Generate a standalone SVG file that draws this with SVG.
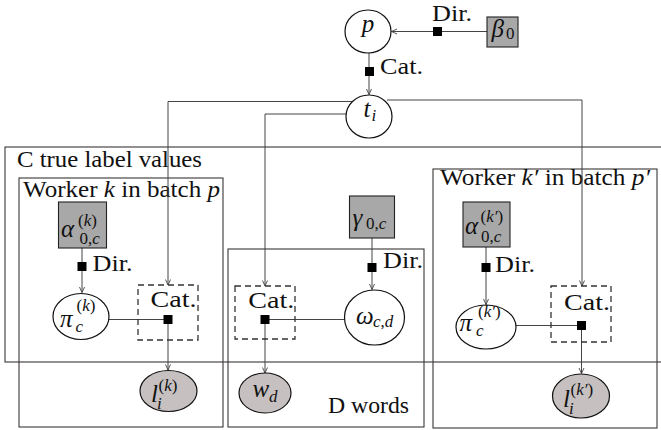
<svg xmlns="http://www.w3.org/2000/svg" width="661" height="430" viewBox="0 0 661 430" font-family="Liberation Serif, Times New Roman, serif">
<defs>
<marker id="arr" markerUnits="userSpaceOnUse" markerWidth="8" markerHeight="8" refX="6" refY="3" orient="auto">
<path d="M0.5,0.5 L6,3 L0.5,5.5" fill="none" stroke="#444" stroke-width="0.9"/>
</marker>
</defs>

<g id="plates">
<g fill="none" stroke="#3a3636" stroke-width="1.1">
<rect x="5" y="147" width="670" height="215"/>
<rect x="19" y="178" width="204" height="249"/>
<rect x="228" y="249" width="196" height="178"/>
<rect x="433" y="169" width="224" height="259"/>
</g>
<text font-family="Liberation Serif, Times New Roman, serif" font-size="24" fill="#111" x="17" y="166.5" textLength="185" lengthAdjust="spacingAndGlyphs">C true label values</text>
<text font-family="Liberation Serif, Times New Roman, serif" font-size="24" fill="#111" x="23" y="196.5" textLength="197" lengthAdjust="spacingAndGlyphs">Worker <tspan font-style="italic">k</tspan> in batch <tspan font-style="italic">p</tspan></text>
<text font-family="Liberation Serif, Times New Roman, serif" font-size="24" fill="#111" x="328" y="413" textLength="81" lengthAdjust="spacingAndGlyphs">D words</text>
<text font-family="Liberation Serif, Times New Roman, serif" font-size="24" fill="#111" x="440" y="185" textLength="210" lengthAdjust="spacingAndGlyphs">Worker <tspan font-style="italic">k′</tspan> in batch <tspan font-style="italic">p′</tspan></text>
</g>

<g id="connectors">
<g fill="none" stroke="#444" stroke-width="1">
<line x1="487" y1="31.5" x2="391.5" y2="31.5" marker-end="url(#arr)"/>
<line x1="369" y1="53" x2="369" y2="94.5" marker-end="url(#arr)"/>
<polyline points="352,101.5 168,101.5 168,285" marker-end="url(#arr)"/>
<polyline points="346,114 265,114 265,286" marker-end="url(#arr)"/>
<polyline points="387,100 582,100 582,286" marker-end="url(#arr)"/>
<line x1="82" y1="248" x2="82" y2="292.5" marker-end="url(#arr)"/>
<line x1="109" y1="319.5" x2="168" y2="319.5"/>
<line x1="168" y1="319.5" x2="168" y2="370" marker-end="url(#arr)"/>
<line x1="372" y1="238" x2="372" y2="289.5" marker-end="url(#arr)"/>
<line x1="265" y1="319.5" x2="344.5" y2="319.5"/>
<line x1="265" y1="319.5" x2="265" y2="373" marker-end="url(#arr)"/>
<line x1="486" y1="247" x2="486" y2="304.5" marker-end="url(#arr)"/>
<line x1="516" y1="325.5" x2="581" y2="325.5"/>
<line x1="581.5" y1="325.5" x2="581.5" y2="373.5" marker-end="url(#arr)"/>
</g>
<g fill="#000">
<rect x="433" y="27" width="9" height="9"/>
<rect x="365" y="67" width="9" height="9"/>
<rect x="77.5" y="262" width="9" height="9"/>
<rect x="367.5" y="263" width="9" height="9"/>
<rect x="481.5" y="263" width="9" height="9"/>
</g>
<text font-family="Liberation Serif, Times New Roman, serif" font-size="24" fill="#111" x="432" y="21" textLength="40" lengthAdjust="spacingAndGlyphs">Dir.</text>
<text font-family="Liberation Serif, Times New Roman, serif" font-size="24" fill="#111" x="380" y="74" textLength="43" lengthAdjust="spacingAndGlyphs">Cat.</text>
<text font-family="Liberation Serif, Times New Roman, serif" font-size="24" fill="#111" x="92.5" y="270.5" textLength="40" lengthAdjust="spacingAndGlyphs">Dir.</text>
<text font-family="Liberation Serif, Times New Roman, serif" font-size="24" fill="#111" x="383" y="268" textLength="40" lengthAdjust="spacingAndGlyphs">Dir.</text>
<text font-family="Liberation Serif, Times New Roman, serif" font-size="24" fill="#111" x="495" y="271.5" textLength="40" lengthAdjust="spacingAndGlyphs">Dir.</text>
</g>

<g id="node-p">
<ellipse cx="368" cy="31.5" rx="23" ry="21.5" fill="#fff" stroke="#111" stroke-width="1.2"/>
<text font-family="Liberation Serif, Times New Roman, serif" font-size="25" font-style="italic" fill="#111" x="368" y="32" text-anchor="middle">p</text>
</g>
<g id="node-beta0">
<rect x="487" y="17" width="31" height="30" fill="#a8a8a8" stroke="#222" stroke-width="1.1"/>
<text font-family="Liberation Serif, Times New Roman, serif" font-size="25" font-style="italic" fill="#111" x="491.5" y="37">β</text>
<text font-family="Liberation Serif, Times New Roman, serif" font-size="17" fill="#111" x="506" y="39">0</text>
</g>
<g id="node-ti">
<ellipse cx="369" cy="116.5" rx="23" ry="21.5" fill="#fff" stroke="#111" stroke-width="1.2"/>
<text font-family="Liberation Serif, Times New Roman, serif" font-size="25" font-style="italic" fill="#111" x="363.5" y="117">t</text>
<text font-family="Liberation Serif, Times New Roman, serif" font-size="17" font-style="italic" fill="#111" x="371.5" y="121">i</text>
</g>

<g id="node-alpha-k">
<rect x="58.5" y="202" width="48" height="46" fill="#a8a8a8" stroke="#222" stroke-width="1.1"/>
<text font-family="Liberation Serif, Times New Roman, serif" font-size="25" font-style="italic" fill="#111" x="61" y="237">α</text>
<text font-family="Liberation Serif, Times New Roman, serif" font-size="17" fill="#111" x="78" y="226">(<tspan font-style="italic">k</tspan>)</text>
<text font-family="Liberation Serif, Times New Roman, serif" font-size="17" fill="#111" x="79.5" y="244">0,<tspan font-style="italic">c</tspan></text>
</g>
<g id="node-pi-k">
<ellipse cx="81" cy="316.5" rx="28" ry="23" fill="#fff" stroke="#111" stroke-width="1.2"/>
<text font-family="Liberation Serif, Times New Roman, serif" font-size="25" font-style="italic" fill="#111" x="60" y="327">π</text>
<text font-family="Liberation Serif, Times New Roman, serif" font-size="17" fill="#111" x="76.5" y="311">(<tspan font-style="italic">k</tspan>)</text>
<text font-family="Liberation Serif, Times New Roman, serif" font-size="17" font-style="italic" fill="#111" x="75.5" y="332">c</text>
</g>
<g id="node-cat-k">
<rect x="138" y="285" width="60" height="55" fill="none" stroke="#333" stroke-width="1.3" stroke-dasharray="6,4"/>
<text font-family="Liberation Serif, Times New Roman, serif" font-size="24" fill="#111" x="150.5" y="307" textLength="46" lengthAdjust="spacingAndGlyphs">Cat.</text>
<rect x="163.5" y="315" width="9" height="9" fill="#000"/>
</g>
<g id="node-l-k">
<ellipse cx="168.5" cy="391" rx="28.5" ry="20.5" fill="#c6c0c0" stroke="#111" stroke-width="1.2"/>
<text font-family="Liberation Serif, Times New Roman, serif" font-size="25" font-style="italic" fill="#111" x="151" y="402">l</text>
<text font-family="Liberation Serif, Times New Roman, serif" font-size="17" fill="#111" x="158.5" y="391">(<tspan font-style="italic">k</tspan>)</text>
<text font-family="Liberation Serif, Times New Roman, serif" font-size="17" font-style="italic" fill="#111" x="157" y="409">i</text>
</g>

<g id="node-gamma">
<rect x="349.5" y="196" width="45" height="42" fill="#a8a8a8" stroke="#222" stroke-width="1.1"/>
<text font-family="Liberation Serif, Times New Roman, serif" font-size="25" font-style="italic" fill="#111" x="352.5" y="226">γ</text>
<text font-family="Liberation Serif, Times New Roman, serif" font-size="17" fill="#111" x="366" y="229">0,<tspan font-style="italic">c</tspan></text>
</g>
<g id="node-cat-d">
<rect x="235" y="286" width="60" height="53" fill="none" stroke="#333" stroke-width="1.3" stroke-dasharray="6,4"/>
<text font-family="Liberation Serif, Times New Roman, serif" font-size="24" fill="#111" x="248.3" y="308.3" textLength="46" lengthAdjust="spacingAndGlyphs">Cat.</text>
<rect x="260.5" y="315" width="9" height="9" fill="#000"/>
</g>
<g id="node-omega">
<ellipse cx="374.5" cy="317.5" rx="30" ry="27.5" fill="#fff" stroke="#111" stroke-width="1.2"/>
<text font-family="Liberation Serif, Times New Roman, serif" font-size="25" font-style="italic" fill="#111" x="356" y="324">ω</text>
<text font-family="Liberation Serif, Times New Roman, serif" font-size="17" font-style="italic" fill="#111" x="373" y="327">c<tspan font-style="normal">,</tspan>d</text>
</g>
<g id="node-wd">
<ellipse cx="265" cy="393" rx="26" ry="20" fill="#c6c0c0" stroke="#111" stroke-width="1.2"/>
<text font-family="Liberation Serif, Times New Roman, serif" font-size="25" font-style="italic" fill="#111" x="252.5" y="397">w</text>
<text font-family="Liberation Serif, Times New Roman, serif" font-size="17" font-style="italic" fill="#111" x="269" y="401.5">d</text>
</g>

<g id="node-alpha-k2">
<rect x="463" y="202" width="47" height="45" fill="#a8a8a8" stroke="#222" stroke-width="1.1"/>
<text font-family="Liberation Serif, Times New Roman, serif" font-size="25" font-style="italic" fill="#111" x="465" y="234">α</text>
<text font-family="Liberation Serif, Times New Roman, serif" font-size="17" fill="#111" x="480.5" y="222">(<tspan font-style="italic">k′</tspan>)</text>
<text font-family="Liberation Serif, Times New Roman, serif" font-size="17" fill="#111" x="481" y="242">0,<tspan font-style="italic">c</tspan></text>
</g>
<g id="node-pi-k2">
<ellipse cx="486" cy="327" rx="30" ry="22" fill="#fff" stroke="#111" stroke-width="1.2"/>
<text font-family="Liberation Serif, Times New Roman, serif" font-size="25" font-style="italic" fill="#111" x="459.5" y="331">π</text>
<text font-family="Liberation Serif, Times New Roman, serif" font-size="17" fill="#111" x="478" y="317">(<tspan font-style="italic">k′</tspan>)</text>
<text font-family="Liberation Serif, Times New Roman, serif" font-size="17" font-style="italic" fill="#111" x="476" y="336">c</text>
</g>
<g id="node-cat-k2">
<rect x="551" y="286" width="60" height="56" fill="none" stroke="#333" stroke-width="1.3" stroke-dasharray="6,4"/>
<text font-family="Liberation Serif, Times New Roman, serif" font-size="24" fill="#111" x="564" y="310" textLength="46" lengthAdjust="spacingAndGlyphs">Cat.</text>
<rect x="577" y="321" width="9" height="9" fill="#000"/>
</g>
<g id="node-l-k2">
<ellipse cx="581" cy="396" rx="28.5" ry="22" fill="#c6c0c0" stroke="#111" stroke-width="1.2"/>
<text font-family="Liberation Serif, Times New Roman, serif" font-size="25" font-style="italic" fill="#111" x="563" y="407">l</text>
<text font-family="Liberation Serif, Times New Roman, serif" font-size="17" fill="#111" x="570.5" y="395">(<tspan font-style="italic">k′</tspan>)</text>
<text font-family="Liberation Serif, Times New Roman, serif" font-size="17" font-style="italic" fill="#111" x="569" y="414">i</text>
</g>
</svg>
